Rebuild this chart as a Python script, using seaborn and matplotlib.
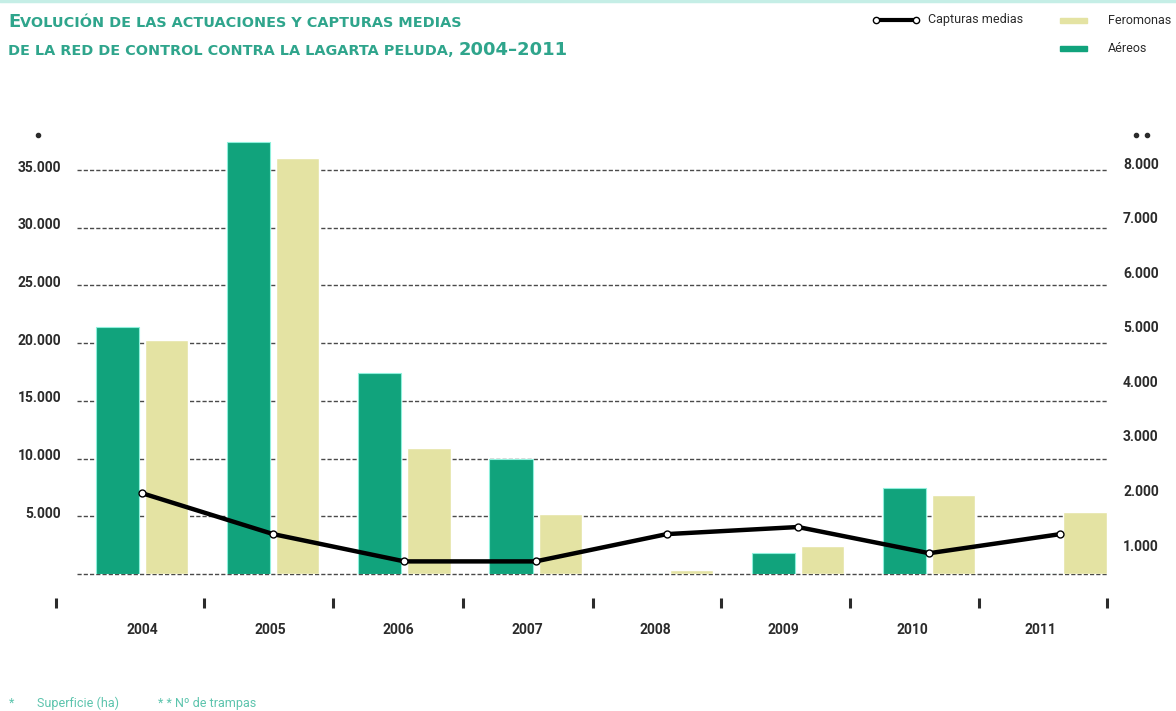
import numpy as np
import pandas as pd
import matplotlib
matplotlib.use("Agg")
import matplotlib.pyplot as plt
import seaborn as sns
from matplotlib.patches import Rectangle
from matplotlib.transforms import ScaledTranslation, blended_transform_factory

# ---- data -------------------------------------------------------------
years = ["2004", "2005", "2006", "2007", "2008", "2009", "2010", "2011"]
aereos = [21400, 37400, 17400, 10000, 0, 1850, 7450, 0]            # superficie (ha)
feromonas = [20300, 36000, 10900, 5200, 350, 2450, 6850, 5400]     # superficie (ha)
capturas = [1950, 1200, 700, 700, 1200, 1330, 850, 1200]           # nº de trampas
left_ticks = [5000, 10000, 15000, 20000, 25000, 30000, 35000]
right_ticks = [1000, 2000, 3000, 4000, 5000, 6000, 7000, 8000]
series_names = ["Aéreos", "Feromonas"]

# ---- style ------------------------------------------------------------
GREEN = "#11a37c"
YELLOW = "#e4e3a3"
TEAL = "#2fa58c"
TEAL_LIGHT = "#5cc4ad"
DARK = "#2b2b2b"

sns.set_theme(style="white")
plt.rcParams["font.family"] = ["Roboto", "DejaVu Sans"]

W, H = 1176, 711
fig = plt.figure(figsize=(W / 100, H / 100), dpi=100)

# main axes (left scale, bars)
ax_left, ax_right, ax_bottom, ax_top = 77, 1108, 574, 129.6
ax = fig.add_axes([ax_left / W, (H - ax_bottom) / H,
                   (ax_right - ax_left) / W, (ax_bottom - ax_top) / H])

df = pd.DataFrame({
    "year": years * 2,
    "valor": aereos + feromonas,
    "tipo": [series_names[0]] * len(years) + [series_names[1]] * len(years),
})

sns.barplot(data=df, x="year", y="valor", hue="tipo", hue_order=series_names,
            palette=[GREEN, YELLOW], width=0.75, gap=0.12, legend=False,
            saturation=1, ax=ax, zorder=2)

# thin cyan rim around the green bars
for bar in ax.containers[0]:
    bar.set_edgecolor("#8ff0dc")
    bar.set_linewidth(0.8)

ax.set_xlim(-0.4954, 7.3628)
ax.set_ylim(0, 38500)

# dashed horizontal guides, baseline included
for v in [0] + left_ticks:
    ax.axhline(v, color="#4a4a4a", lw=1.0, ls=(0, (3, 1.5)), zorder=0.5, clip_on=False)

for s in ax.spines.values():
    s.set_visible(False)
ax.set_xlabel("")
ax.set_ylabel("")
ax.set_xticks([])
ax.set_yticks(left_ticks)
ax.set_yticklabels([f"{v:,}".replace(",", ".") for v in left_ticks])
ax.tick_params(axis="y", length=0, pad=11.5, labelsize=10, labelcolor=DARK)
for lbl in ax.get_yticklabels():
    lbl.set_fontweight("bold")
    lbl.set_transform(lbl.get_transform() + ScaledTranslation(0, 0.04, fig.dpi_scale_trans))

# secondary axis: line of captures
ax2 = ax.twinx()
sns.lineplot(x=np.arange(len(years)), y=capturas, ax=ax2, color="black", lw=3.2,
             marker="o", markersize=5, markerfacecolor="white",
             markeredgecolor="black", markeredgewidth=1.0, zorder=5)
ax2.set_xlim(-0.4954, 7.3628)
ax2.set_ylim(469, 8613)
for s in ax2.spines.values():
    s.set_visible(False)
ax2.set_ylabel("")
ax2.set_yticks(right_ticks)
ax2.set_yticklabels([f"{v:,}".replace(",", ".") for v in right_ticks])
ax2.tick_params(axis="y", length=0, pad=10.8, labelsize=10, labelcolor=DARK)
for lbl in ax2.get_yticklabels():
    lbl.set_fontweight("bold")

# category separators and year labels under the plot
bt = blended_transform_factory(ax.transData, fig.transFigure)
separators = [-0.655, 0.473, 1.456, 2.447, 3.438, 4.413, 5.396, 6.38, 7.355]
ax.plot(separators, [(H - 603) / H] * len(separators), transform=bt, ls="none",
        marker="|", ms=7.5, mew=2.2, color=DARK, clip_on=False)
label_pos = [0.0 + 0.978 * i for i in range(len(years))]
for xp, yr in zip(label_pos, years):
    ax.text(xp, (H - 630) / H, yr, transform=bt, ha="center", va="center",
            fontsize=10, fontweight="bold", color=DARK)

# overlay in pixel coordinates for title, legend and notes
ov = fig.add_axes([0, 0, 1, 1], zorder=10)
ov.set_xlim(0, W)
ov.set_ylim(H, 0)
ov.axis("off")
ov.patch.set_alpha(0)

ov.plot([0, W], [1, 1], color="#c5eee6", lw=2.5)

renderer = fig.canvas.get_renderer()


def small_caps_line(x, y, parts):
    for text, size in parts:
        t = ov.text(x, y, text, fontsize=size, fontweight="bold", color=TEAL,
                    va="baseline", ha="left", family="DejaVu Sans")
        x += t.get_window_extent(renderer).width


small_caps_line(8, 27, [("E", 13), ("VOLUCIÓN DE LAS ACTUACIONES Y CAPTURAS MEDIAS", 10.4)])
small_caps_line(8, 55, [("DE LA RED DE CONTROL CONTRA LA LAGARTA PELUDA, ", 10.4),
                        ("2004–2011", 13)])

# legend
ov.plot([876, 916], [20, 20], color="black", lw=3, marker="o", ms=4.5,
        mfc="white", mec="black", mew=1)
ov.text(928, 20, "Capturas medias", fontsize=9, color=DARK, va="center")
ov.add_patch(Rectangle((1060, 17.5), 27, 5, color=YELLOW))
ov.text(1108, 20, "Feromonas", fontsize=9, color=DARK, va="center")
ov.add_patch(Rectangle((1060, 45.5), 27, 5, color=GREEN))
ov.text(1108, 48, "Aéreos", fontsize=9, color=DARK, va="center")

# unit markers above each scale
ov.plot([38], [135], ls="none", marker="o", ms=3, color=DARK)
ov.plot([1136, 1147], [135, 135], ls="none", marker="o", ms=3, color=DARK)

# footnotes
ov.text(12, 703, "*", fontsize=9, color=TEAL_LIGHT, ha="center", va="center")
ov.text(37, 703, "Superficie (ha)", fontsize=9, color=TEAL_LIGHT, va="center")
ov.text(158, 703, "* * Nº de trampas", fontsize=9, color=TEAL_LIGHT, va="center")

fig.savefig("out.png", dpi=100)
